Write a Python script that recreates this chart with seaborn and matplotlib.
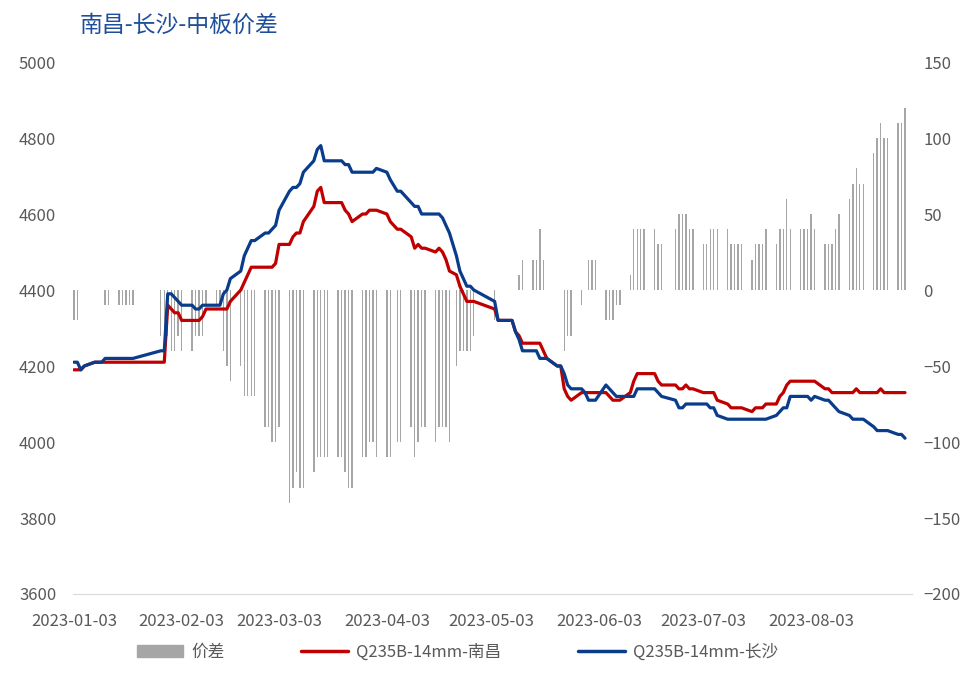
import pandas as pd
import matplotlib
matplotlib.use("Agg")
import matplotlib.pyplot as plt
import matplotlib.dates as mdates
from matplotlib.patches import Patch
from matplotlib.lines import Line2D
import seaborn as sns

# trading days: weekdays minus holidays, plus the make-up weekend days
holidays = ["2023-01-23", "2023-01-24", "2023-01-25", "2023-01-26", "2023-01-27",
            "2023-04-05", "2023-05-01", "2023-05-02", "2023-05-03",
            "2023-06-22", "2023-06-23"]
makeup_days = ["2023-01-28", "2023-01-29", "2023-04-23", "2023-05-06", "2023-06-25"]

# Q235B-14mm 南昌 (one value per trading day, Jan..Aug)
nanchang = [
    4190, 4190, 4190, 4200, 4210, 4210, 4210, 4210, 4210, 4210, 4210, 4210, 4210, 4210, 4210, 4210, 4360, 4350,
    4340, 4340, 4320, 4320, 4320, 4320, 4330, 4350, 4350, 4350, 4350, 4350, 4370, 4400, 4420, 4440, 4460, 4460, 4460, 4460,
    4460, 4470, 4520, 4520, 4540, 4550, 4550, 4580, 4620, 4660, 4670, 4630, 4630, 4630, 4630, 4610, 4600, 4580, 4600, 4600, 4610, 4610, 4610,
    4600, 4580, 4560, 4560, 4540, 4510, 4520, 4510, 4510, 4500, 4510, 4500, 4480, 4450, 4440, 4410, 4390, 4370, 4370, 4370,
    4350, 4320, 4320, 4320, 4320, 4290, 4280, 4260, 4260, 4260, 4260, 4240, 4220, 4200, 4200, 4140, 4120, 4110, 4130, 4130, 4130,
    4130, 4130, 4130, 4120, 4110, 4110, 4110, 4130, 4160, 4180, 4180, 4180, 4180, 4160, 4150, 4150, 4140, 4140, 4150, 4140, 4140,
    4130, 4130, 4130, 4130, 4110, 4100, 4090, 4090, 4090, 4090, 4080, 4090, 4090, 4090, 4100, 4100, 4120, 4130, 4150, 4160, 4160,
    4160, 4160, 4160, 4160, 4140, 4140, 4130, 4130, 4130, 4130, 4130, 4140, 4130, 4130, 4130, 4130, 4140, 4130, 4130, 4130, 4130, 4130,
]

# Q235B-14mm 长沙
changsha = [
    4210, 4210, 4190, 4200, 4210, 4210, 4210, 4220, 4220, 4220, 4220, 4220, 4220, 4220, 4240, 4240, 4390, 4390,
    4380, 4370, 4360, 4360, 4350, 4350, 4360, 4360, 4360, 4360, 4390, 4400, 4430, 4450, 4490, 4510, 4530, 4530, 4550, 4550,
    4560, 4570, 4610, 4660, 4670, 4670, 4680, 4710, 4740, 4770, 4780, 4740, 4740, 4740, 4740, 4730, 4730, 4710, 4710, 4710, 4710, 4710, 4720,
    4710, 4690, 4660, 4660, 4630, 4620, 4620, 4600, 4600, 4600, 4600, 4590, 4570, 4550, 4490, 4450, 4430, 4410, 4410, 4400,
    4370, 4320, 4320, 4320, 4320, 4290, 4270, 4240, 4240, 4240, 4220, 4220, 4220, 4200, 4200, 4180, 4150, 4140, 4140, 4130, 4110,
    4110, 4110, 4150, 4140, 4130, 4120, 4120, 4120, 4120, 4140, 4140, 4140, 4140, 4130, 4120, 4110, 4090, 4090, 4100, 4100, 4100,
    4100, 4100, 4090, 4090, 4070, 4060, 4060, 4060, 4060, 4060, 4060, 4060, 4060, 4060, 4060, 4070, 4080, 4090, 4090, 4120, 4120,
    4120, 4120, 4110, 4120, 4110, 4110, 4100, 4090, 4080, 4070, 4060, 4060, 4060, 4060, 4040, 4030, 4030, 4030, 4030, 4020, 4020, 4010,
]

x_ticks = ["2023-01-03", "2023-02-03", "2023-03-03", "2023-04-03",
           "2023-05-03", "2023-06-03", "2023-07-03", "2023-08-03"]
left_ticks = [3600, 3800, 4000, 4200, 4400, 4600, 4800, 5000]
right_ticks = [-200, -150, -100, -50, 0, 50, 100, 150]

dates = pd.bdate_range("2023-01-03", "2023-08-30", freq="C", holidays=holidays)
dates = dates.union(pd.DatetimeIndex(makeup_days))
df = pd.DataFrame({"date": dates, "南昌": nanchang, "长沙": changsha})
df["价差"] = df["南昌"] - df["长沙"]

RED = "#C00000"
BLUE = "#0A3C8C"
GRAY = "#A6A6A6"
TXT = "#595959"

sns.set_style("white")
plt.rcParams["font.family"] = ["Liberation Sans Narrow", "Noto Sans CJK SC", "DejaVu Sans"]

fig = plt.figure(figsize=(9.63, 6.77), dpi=100)
ax = fig.add_axes([0.0758, 0.1226, 0.8712, 0.7858])

# spread bars on the right axis, drawn first so the lines sit on top
ax.bar(df["date"], df["价差"], width=0.4, color=GRAY, linewidth=0)

ax2 = ax.twinx()
sns.lineplot(data=df, x="date", y="南昌", ax=ax2, color=RED, linewidth=2.3)
sns.lineplot(data=df, x="date", y="长沙", ax=ax2, color=BLUE, linewidth=2.3)
ax2.set_ylim(3600, 5000)
ax2.set_yticks(left_ticks)
ax2.yaxis.tick_left()
ax2.tick_params(axis="y", length=0, labelsize=12, labelcolor=TXT, pad=12)
ax2.set_ylabel("")
ax2.set_xlabel("")

# twinx resets the first axis to the left side, so move it back afterwards
ax.set_ylim(-200, 150)
ax.set_yticks(right_ticks)
ax.yaxis.tick_right()
ax.tick_params(axis="y", length=0, labelsize=12, labelcolor=TXT, pad=8)

ax.set_xlim(pd.Timestamp("2023-01-02 18:00"), pd.Timestamp("2023-09-01"))
ax.set_xticks(pd.to_datetime(x_ticks))
ax.xaxis.set_major_formatter(mdates.DateFormatter("%Y-%m-%d"))
ax.tick_params(axis="x", length=6, color="#D9D9D9", labelsize=12, labelcolor=TXT, pad=8)
ax.set_xlabel("")

for a in (ax, ax2):
    for s in ("top", "left", "right", "bottom"):
        a.spines[s].set_visible(False)
ax.spines["bottom"].set_visible(True)
ax.spines["bottom"].set_color("#D9D9D9")
ax.spines["bottom"].set_position(("data", -200))

fig.text(0.083, 0.962, "南昌-长沙-中板价差", color="#1F4E9A", fontsize=16.5,
         family=["Noto Sans CJK SC", "DejaVu Sans"], va="center", ha="left")

handles = [Patch(color=GRAY), Line2D([], [], color=RED, lw=2.5), Line2D([], [], color=BLUE, lw=2.5)]
labels = ["价差", "Q235B-14mm-南昌", "Q235B-14mm-长沙"]
fig.legend(handles, labels, loc="center", bbox_to_anchor=(0.475, 0.037), ncol=3, frameon=False,
           fontsize=12, labelcolor=TXT, handlelength=2.8, columnspacing=4.6, handletextpad=0.5)

fig.savefig("out.png", dpi=100)
